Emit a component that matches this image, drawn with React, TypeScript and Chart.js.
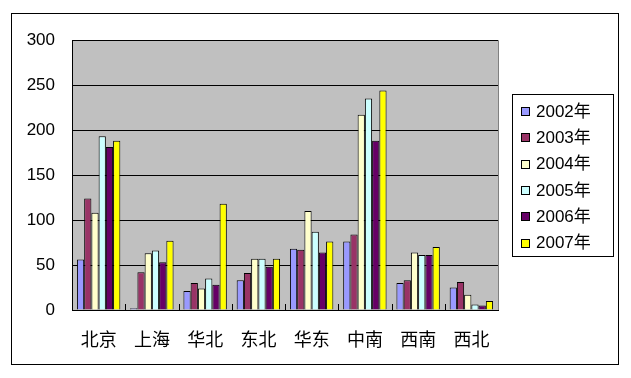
import React, { useEffect, useRef } from "react";
import { Chart, registerables } from "chart.js";

Chart.register(...registerables);

const categories = ["北京", "上海", "华北", "东北", "华东", "中南", "西南", "西北"];
const seriesNames = ["2002年", "2003年", "2004年", "2005年", "2006年", "2007年"];
const v2002 = [56, 2, 21, 33, 68, 76, 30, 25];
const v2003 = [124, 42, 30, 41, 67, 84, 33, 31];
const v2004 = [108, 63, 24, 57, 110, 217, 64, 17];
const v2005 = [193, 66, 35, 57, 87, 235, 61, 6];
const v2006 = [181, 53, 28, 48, 64, 188, 61, 5];
const v2007 = [188, 77, 118, 57, 76, 244, 70, 10];
const seriesColors = ["#9999FF", "#993366", "#FFFFCC", "#CCFFFF", "#660066", "#FFFF00"];
const yTicks = [0, 50, 100, 150, 200, 250, 300];

const NUM_FONT = "Liberation Sans";
const CJK_FONT = "'Noto Sans CJK SC'";

const decorPlugin = {
  id: "decor",
  beforeDraw(chart: any) {
    const { ctx, chartArea } = chart;
    ctx.save();
    ctx.fillStyle = "#ffffff";
    ctx.fillRect(0, 0, chart.width, chart.height);
    ctx.fillStyle = "#C0C0C0";
    ctx.fillRect(chartArea.left, chartArea.top, chartArea.right - chartArea.left, chartArea.bottom - chartArea.top);
    ctx.strokeStyle = "#808080";
    ctx.lineWidth = 1;
    ctx.beginPath();
    ctx.moveTo(chartArea.left, chartArea.top + 0.5);
    ctx.lineTo(chartArea.right + 0.5, chartArea.top + 0.5);
    ctx.lineTo(chartArea.right + 0.5, chartArea.bottom);
    ctx.stroke();
    // outer border
    ctx.strokeStyle = "#000000";
    ctx.strokeRect(11.5, 13.5, 607, 351);
    ctx.restore();
  },
  afterDraw(chart: any) {
    const { ctx, chartArea } = chart;
    const xs = chart.scales.x;
    ctx.save();
    ctx.strokeStyle = "#000000";
    ctx.lineWidth = 1;
    const n = categories.length;
    const step = (chartArea.right - chartArea.left) / n;
    ctx.beginPath();
    for (let i = 1; i < n; i++) {
      const x = Math.round(xs.getPixelForValue(i) - step / 2) + 0.5;
      ctx.moveTo(x, chartArea.bottom - 6);
      ctx.lineTo(x, chartArea.bottom);
    }
    ctx.stroke();
    // legend
    const lx = 512, ly = 94, lw = 101, lh = 162;
    ctx.fillStyle = "#ffffff";
    ctx.fillRect(lx, ly, lw, lh);
    ctx.strokeRect(lx + 0.5, ly + 0.5, lw, lh);
    ctx.font = `17px ${NUM_FONT}, ${CJK_FONT}`;
    ctx.textBaseline = "middle";
    ctx.textAlign = "left";
    chart.data.datasets.forEach((ds: any, i: number) => {
      const cy = 111 + i * 26.3;
      ctx.fillStyle = ds.backgroundColor;
      ctx.fillRect(521, Math.round(cy - 4), 9, 9);
      ctx.strokeStyle = "#000000";
      ctx.strokeRect(521.5, Math.round(cy - 4) + 0.5, 8, 8);
      ctx.fillStyle = "#000000";
      ctx.fillText(ds.label, 536, cy + 1);
    });
    ctx.restore();
  },
};

export default function App() {
  const ref = useRef<HTMLCanvasElement | null>(null);
  useEffect(() => {
    if (!ref.current) return;
    const values = [v2002, v2003, v2004, v2005, v2006, v2007];
    const chart = new Chart(ref.current, {
      type: "bar",
      data: {
        labels: categories,
        datasets: seriesNames.map((name, i) => ({
          label: name,
          data: values[i],
          backgroundColor: seriesColors[i],
          borderColor: "#000000",
          borderWidth: 1,
          barPercentage: 1,
          categoryPercentage: 0.815,
        })),
      },
      options: {
        animation: false,
        responsive: false,
        devicePixelRatio: 1,
        layout: { padding: { left: 0, right: 133, top: 40, bottom: 0 } },
        plugins: { legend: { display: false }, tooltip: { enabled: false } },
        scales: {
          x: {
            grid: { display: false, drawTicks: false },
            border: { display: true, color: "#000000", width: 1 },
            ticks: {
              color: "#000000",
              padding: 18,
              font: { family: CJK_FONT, size: 18 },
            },
            afterFit: (s: any) => {
              s.height = 68;
            },
          },
          y: {
            min: 0,
            max: 300,
            afterBuildTicks: (s: any) => {
              s.ticks = yTicks.map((v) => ({ value: v }));
            },
            grid: { color: "#000000", lineWidth: 1, drawTicks: false },
            border: { display: true, color: "#000000", width: 1 },
            ticks: {
              color: "#000000",
              padding: 17,
              font: { family: NUM_FONT, size: 17 },
            },
            afterFit: (s: any) => {
              s.width = 72;
            },
          },
        },
      },
      plugins: [decorPlugin],
    });
    return () => chart.destroy();
  }, []);
  return (
    <div style={{ position: "fixed", left: 0, top: 0, width: 631, height: 378, background: "#fff" }}>
      <canvas ref={ref} width={631} height={378} style={{ display: "block", width: 631, height: 378 }} />
    </div>
  );
}
